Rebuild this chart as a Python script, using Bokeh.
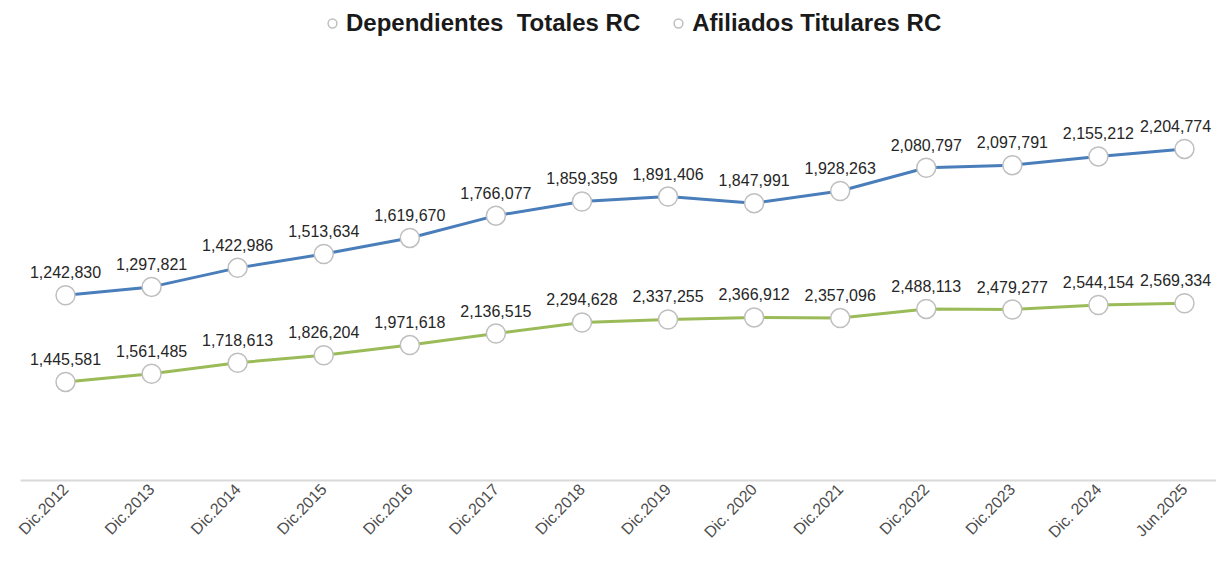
from bokeh.plotting import figure
from bokeh.models import Range1d, LegendItem, Legend, ColumnDataSource, FixedTicker
from bokeh.core.properties import value
from bokeh.embed import file_html
from bokeh.resources import INLINE

periods = ["Dic.2012", "Dic.2013", "Dic.2014", "Dic.2015", "Dic.2016", "Dic.2017",
           "Dic.2018", "Dic.2019", "Dic. 2020", "Dic.2021", "Dic.2022", "Dic.2023",
           "Dic. 2024", "Jun.2025"]
afiliados = [1242830, 1297821, 1422986, 1513634, 1619670, 1766077, 1859359,
             1891406, 1847991, 1928263, 2080797, 2097791, 2155212, 2204774]
dependientes = [1445581, 1561485, 1718613, 1826204, 1971618, 2136515, 2294628,
                2337255, 2366912, 2357096, 2488113, 2479277, 2544154, 2569334]

xs = list(range(len(periods)))
# keep the last data label inside the canvas edge
label_shift = [0] * (len(periods) - 1) + [-9]
src_a = ColumnDataSource(dict(x=xs, y=afiliados, lab=[f"{v:,}" for v in afiliados], dx=label_shift))
src_d = ColumnDataSource(dict(x=xs, y=dependientes, lab=[f"{v:,}" for v in dependientes], dx=label_shift))

p = figure(width=1216, height=549, x_range=Range1d(-0.523, 13.372),
           y_range=Range1d(25650, 3179850), output_backend="svg", toolbar_location=None,
           min_border_left=20, min_border_right=0, min_border_top=0, min_border_bottom=67)
p.extra_y_ranges = {"dep": Range1d(37300, 6893750)}
p.outline_line_color = None
p.xgrid.visible = False
p.ygrid.visible = False
p.yaxis.visible = False
p.background_fill_color = "white"
p.border_fill_color = "white"

ax = p.xaxis[0]
ax.ticker = FixedTicker(ticks=xs)
ax.major_label_overrides = {i: lab for i, lab in zip(xs, periods)}
ax.axis_line_color = "#d9d9d9"
ax.axis_line_width = 2
ax.major_tick_line_color = None
ax.minor_tick_line_color = None
ax.major_tick_out = 0
ax.major_label_orientation = 0.8
ax.major_label_standoff = 6
ax.major_label_text_font = "Liberation Sans"
ax.major_label_text_font_size = "16px"
ax.major_label_text_color = "#4d4d4d"

la = p.line("x", "y", source=src_a, line_color="#4a7ebb", line_width=3)
ld = p.line("x", "y", source=src_d, y_range_name="dep", line_color="#9bbb59", line_width=3)
ma = p.scatter("x", "y", source=src_a, size=19, fill_color="white", line_color="#bfbfbf", line_width=1.5)
md = p.scatter("x", "y", source=src_d, y_range_name="dep", size=19, fill_color="white",
               line_color="#bfbfbf", line_width=1.5)

for src, rn in ((src_a, "default"), (src_d, "dep")):
    p.text("x", "y", text="lab", source=src, y_range_name=rn, y_offset=-23, x_offset="dx",
           text_align="center", text_baseline="middle",
           text_font=value("Liberation Sans"), text_font_size="16px", text_color="#262626")

legend = Legend(items=[LegendItem(label="Dependientes  Totales RC", renderers=[md]),
                       LegendItem(label="Afiliados Titulares RC", renderers=[ma])],
                location=(301, 443), orientation="horizontal",
                border_line_color=None, background_fill_alpha=0,
                label_text_font="Liberation Sans", label_text_font_style="bold",
                label_text_font_size="24px", label_text_color="#1a1a1a",
                glyph_width=22, glyph_height=22, label_standoff=3, spacing=27,
                margin=0, padding=0)
p.add_layout(legend)

open("out.html", "w").write(file_html(p, INLINE))
